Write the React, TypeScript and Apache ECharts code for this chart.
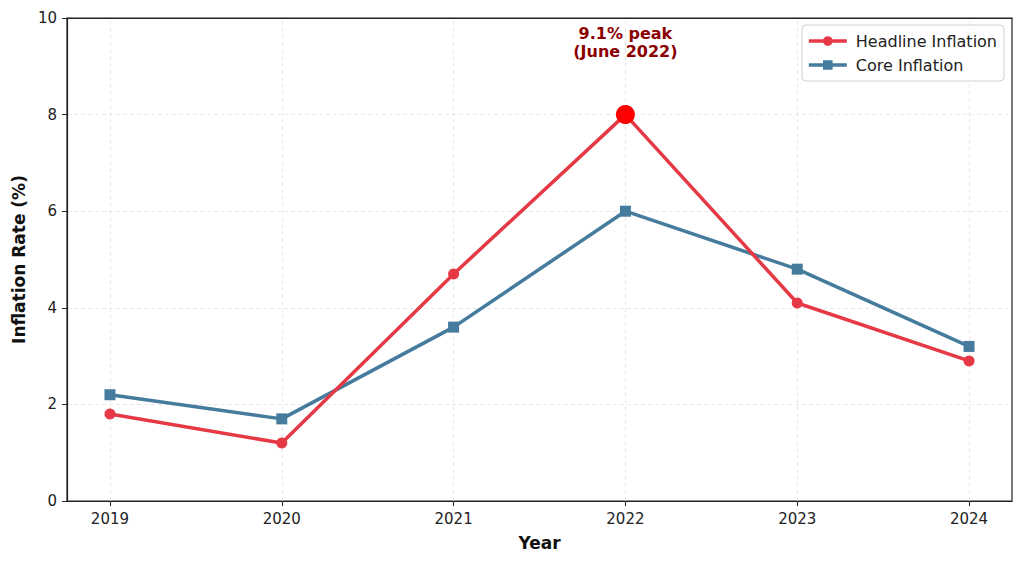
import React, { useEffect, useRef } from "react";
import * as echarts from "echarts";

const years = [2019, 2020, 2021, 2022, 2023, 2024];
const headline = [1.8, 1.2, 4.7, 8.0, 4.1, 2.9];
const core = [2.2, 1.7, 3.6, 6.0, 4.8, 3.2];
const peakYear = 2022;
const peakValue = 8.0;
const annotationText = "9.1% peak\n(June 2022)";
const annotationY = 9.5;

const FONT = "DejaVu Sans";

export default function App() {
  const ref = useRef<HTMLDivElement>(null);
  useEffect(() => {
    if (!ref.current) return;
    const chart = echarts.init(ref.current, undefined, { renderer: "svg" });
    const gridLine = { color: "#e2e2e2", type: [4, 3] as any, width: 0.8 };
    chart.setOption({
      animation: false,
      backgroundColor: "#ffffff",
      textStyle: { fontFamily: FONT },
      grid: {
        left: 67,
        right: 12,
        top: 18,
        bottom: 63,
        show: true,
        borderColor: "#222",
        borderWidth: 1.2,
        backgroundColor: "transparent",
      },
      legend: {
        orient: "vertical",
        right: 20,
        top: 25,
        itemWidth: 38,
        itemHeight: 12,
        itemGap: 8,
        padding: [8, 7, 8, 5],
        borderColor: "#d0d0d0",
        borderWidth: 1,
        borderRadius: 4,
        backgroundColor: "#ffffff",
        lineStyle: { width: 3.5 },
        textStyle: { fontFamily: FONT, fontSize: 16, color: "#222", padding: [0, 0, 0, 4] },
        data: ["Headline Inflation", "Core Inflation"],
      },
      xAxis: [
        {
          type: "value",
          min: 2018.75,
          max: 2024.25,
          name: "Year",
          nameLocation: "middle",
          nameGap: 33,
          nameTextStyle: { fontFamily: FONT, fontSize: 17, fontWeight: "bold", color: "#111" },
          axisLine: { show: true, lineStyle: { color: "#222", width: 1.2 } },
          axisTick: { show: true, length: 5, customValues: years, lineStyle: { color: "#222" } },
          axisLabel: {
            customValues: years,
            margin: 10,
            fontFamily: FONT,
            fontSize: 15,
            color: "#222",
            formatter: (v: number) => String(v),
          },
          splitLine: { show: false },
        },
        {
          type: "value",
          position: "top",
          min: 2018.75,
          max: 2024.25,
          axisLine: { show: true, onZero: false, lineStyle: { color: "#222", width: 1.2 } },
          axisTick: { show: false },
          axisLabel: { show: false },
          splitLine: { show: false },
        },
      ],
      yAxis: {
        type: "value",
        min: 0,
        max: 10,
        interval: 2,
        name: "Inflation Rate (%)",
        nameLocation: "middle",
        nameGap: 39,
        nameTextStyle: { fontFamily: FONT, fontSize: 17, fontWeight: "bold", color: "#111" },
        axisLine: { show: true, lineStyle: { color: "#222", width: 1.2 } },
        axisTick: { show: true, length: 5, lineStyle: { color: "#222" } },
        axisLabel: { margin: 10, fontFamily: FONT, fontSize: 15, color: "#222" },
        splitLine: { show: true, lineStyle: gridLine },
      },
      series: [
        {
          name: "Headline Inflation",
          type: "line",
          data: years.map((y, i) => [y, headline[i]]),
          symbol: "circle",
          symbolSize: 11,
          z: 3,
          lineStyle: { color: "#E63946", width: 3.5 },
          itemStyle: { color: "#E63946" },
          markLine: {
            silent: true,
            symbol: "none",
            label: { show: false },
            lineStyle: gridLine,
            z: 1,
            data: years.map((y) => ({ xAxis: y })),
          },
          markPoint: {
            silent: true,
            data: [
              {
                coord: [peakYear, peakValue],
                symbol: "circle",
                symbolSize: 19,
                itemStyle: { color: "#FF0000" },
                label: { show: false },
              },
              {
                coord: [peakYear, annotationY],
                symbol: "circle",
                symbolSize: 0,
                label: {
                  show: true,
                  position: "inside",
                  formatter: annotationText,
                  fontFamily: FONT,
                  fontSize: 16,
                  fontWeight: "bold",
                  color: "#8B0000",
                  lineHeight: 18,
                  align: "center",
                },
              },
            ],
          },
        },
        {
          name: "Core Inflation",
          type: "line",
          data: years.map((y, i) => [y, core[i]]),
          symbol: "rect",
          symbolSize: 11,
          z: 2,
          lineStyle: { color: "#457B9D", width: 3.5 },
          itemStyle: { color: "#457B9D" },
        },
      ],
    });
    return () => chart.dispose();
  }, []);
  return <div ref={ref} style={{ width: 1024, height: 564, position: "absolute", left: 0, top: 0 }} />;
}
